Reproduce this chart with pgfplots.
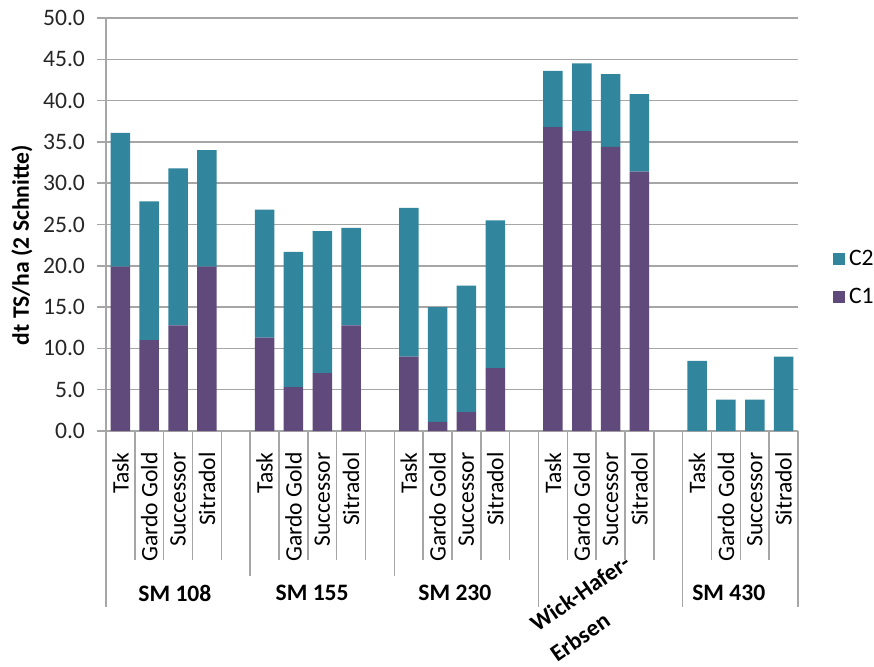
\documentclass[border=0pt]{standalone}
\usepackage{fontspec}
\setmainfont{Carlito}
\usepackage{pgfplots}
\usepackage{pgfplotstable}
\pgfplotsset{compat=1.18}

\definecolor{ctwo}{HTML}{31859C}
\definecolor{cone}{HTML}{604A7B}
\definecolor{gridgray}{HTML}{A6A6A6}
\definecolor{txt}{HTML}{262626}

% x: slot index (4 varieties per group, one empty slot between groups)
\pgfplotstableread{
x  c1   c2
0  19.9 16.2
1  11.0 16.8
2  12.8 19.0
3  19.9 14.1
5  11.3 15.5
6  5.3  16.4
7  7.0  17.2
8  12.8 11.8
10 9.0  18.0
11 1.1  13.9
12 2.3  15.3
13 7.6  17.9
15 36.8 6.8
16 36.3 8.2
17 34.4 8.8
18 31.4 9.4
20 0.0  8.5
21 0.0  3.8
22 0.0  3.8
23 0.0  9.0
}\ertrag

\newcommand{\lbl}{\fontsize{11.8}{14}\selectfont}

\begin{document}
\begin{tikzpicture}
\begin{axis}[
    scale only axis,
    width=346pt, height=206.5pt,
    xmin=-0.5, xmax=23.5,
    ymin=0, ymax=50,
    ybar stacked, bar width=9.75pt,
    clip=false,
    axis x line*=bottom, axis y line*=left,
    axis line style={draw=gridgray, line width=0.75pt, -},
    ytick={0,5,...,50},
    ymajorgrids, grid style={gridgray, line width=0.75pt},
    tick align=outside, major tick length=4.5pt,
    y tick style={gridgray, line width=0.75pt},
    x tick style={draw=none},
    /pgf/number format/assume math mode=true,
    yticklabel style={/pgf/number format/.cd, fixed, fixed zerofill, precision=1, /tikz/.cd,
        font=\lbl, text=txt, xshift=-2.5pt},
    xtick={0,1,2,3,5,6,7,8,10,11,12,13,15,16,17,18,20,21,22,23},
    xticklabels={Task,Gardo Gold,Successor,Sitradol,
                 Task,Gardo Gold,Successor,Sitradol,
                 Task,Gardo Gold,Successor,Sitradol,
                 Task,Gardo Gold,Successor,Sitradol,
                 Task,Gardo Gold,Successor,Sitradol},
    xticklabel style={rotate=90, anchor=east, inner sep=0pt, font=\lbl, text=black},
    xticklabel shift=6pt,
    ylabel={dt TS/ha (2 Schnitte)},
    ylabel style={font=\lbl\bfseries, at={(axis description cs:-0.1214,0.45)}, anchor=center},
    legend style={draw=none, fill=none, at={(axis description cs:1.05,0.37)}, anchor=west,
        font=\lbl, row sep=6pt, inner sep=0pt},
    legend cell align=left,
    reverse legend,
    legend image code/.code={\fill[#1] (2.5pt,-3pt) rectangle (8.5pt,3pt);},
]
\addplot[fill=cone, draw=none] table[x=x, y=c1] {\ertrag};
\addplot[fill=ctwo, draw=none] table[x=x, y=c2] {\ertrag};
\legend{C1,C2}

% separators of the category axis
\pgfplotsinvokeforeach{0.5,1.5,2.5,3.5,5.5,6.5,7.5,8.5,10.5,11.5,12.5,13.5,15.5,16.5,17.5,18.5,20.5,21.5,22.5}{
  \draw[gridgray, line width=0.75pt] (axis cs:#1,0) -- ++(0pt,-64.5pt);
}
\pgfplotsinvokeforeach{4.5,9.5}{
  \draw[gridgray, line width=0.75pt] (axis cs:#1,0) -- ++(0pt,-72.5pt);
}
\pgfplotsinvokeforeach{-0.5,14.5,19.5,23.5}{
  \draw[gridgray, line width=0.75pt] (axis cs:#1,0) -- ++(0pt,-88pt);
}

% group labels
\node[font=\lbl\bfseries] at ([yshift=-81pt]axis cs:1.89,0) {SM 108};
\node[font=\lbl\bfseries] at ([yshift=-81pt]axis cs:6.65,0) {SM 155};
\node[font=\lbl\bfseries] at ([yshift=-81pt]axis cs:11.6,0) {SM 230};
\node[font=\lbl\bfseries] at ([yshift=-81pt]axis cs:21.1,0) {SM 430};
\node[font=\lbl\bfseries, rotate=35, anchor=base west, inner sep=0pt] at ([xshift=0pt, yshift=-101pt]axis cs:14.45,0) {Wick-Hafer-};
\node[font=\lbl\bfseries, rotate=35, anchor=base west, inner sep=0pt] at ([xshift=10pt, yshift=-116pt]axis cs:14.45,0) {Erbsen};
\end{axis}
\pgfresetboundingbox
\useasboundingbox (-53pt,-117.5pt) rectangle (384pt,215.5pt);
\end{tikzpicture}
\end{document}
